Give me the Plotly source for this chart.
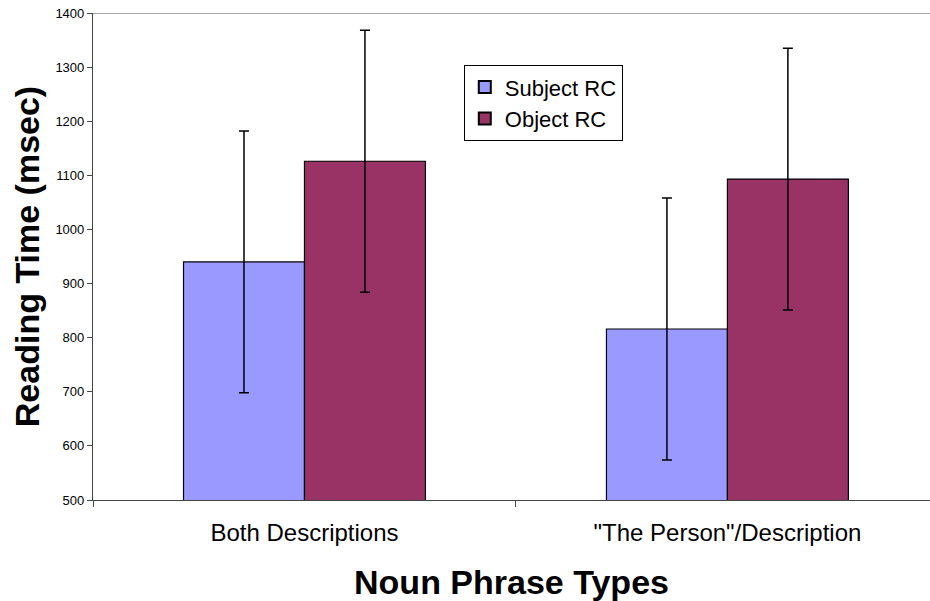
import plotly.graph_objects as go

categories = ["Both Descriptions", "\"The Person\"/Description"]
subject_rc = [940, 816]
object_rc = [1126, 1093]
subject_err = [242, 242]
object_err = [242, 242]

FONT = "Arial, Liberation Sans, Helvetica, sans-serif"

fig = go.Figure()
fig.add_trace(go.Bar(
    name="Subject RC", x=categories, y=subject_rc,
    marker=dict(color="#9999FF", line=dict(color="black", width=1.2)),
    error_y=dict(type="data", array=subject_err, color="black", thickness=1.5, width=5),
))
fig.add_trace(go.Bar(
    name="Object RC", x=categories, y=object_rc,
    marker=dict(color="#993366", line=dict(color="black", width=1.2)),
    error_y=dict(type="data", array=object_err, color="black", thickness=1.5, width=5),
))

fig.add_shape(type="line", xref="paper", yref="y", x0=0, x1=1, y0=1400, y1=1400,
              line=dict(color="#888888", width=1.5))

fig.update_layout(
    width=930, height=601,
    margin=dict(l=93, r=0, t=13, b=101, autoexpand=False),
    paper_bgcolor="white", plot_bgcolor="white",
    barmode="group", bargap=0.428, bargroupgap=0,
    font=dict(family=FONT, color="black"),
    showlegend=True,
    legend=dict(
        x=0.443, y=0.893, xanchor="left", yanchor="top",
        bgcolor="white", bordercolor="black", borderwidth=1,
        font=dict(size=22, family=FONT, color="black"),
        tracegroupgap=0, itemsizing="constant",
    ),
    xaxis=dict(
        range=[-0.5, 1.479],
        showline=True, linecolor="#444444", linewidth=1.2,
        ticks="outside", tickson="boundaries", ticklen=6, tickcolor="#444444",
        tickfont=dict(size=24, family=FONT, color="black"),
        ticklabelstandoff=11,
        showgrid=False, zeroline=False,
        title=dict(text="<b>Noun Phrase Types</b>", font=dict(size=34, family=FONT, color="black"), standoff=33),
    ),
    yaxis=dict(
        range=[500, 1400], dtick=100, tick0=500,
        showline=True, linecolor="#444444", linewidth=1.2,
        ticks="outside", ticklen=5, tickcolor="#444444",
        tickfont=dict(size=13, family=FONT, color="black"),
        ticklabeloverflow="allow",
        showgrid=False, zeroline=False,
        title=dict(text="<b>Reading Time (msec)</b>", font=dict(size=34, family=FONT, color="black"), standoff=5),
    ),
)

fig.write_html(
    "out.html",
    config={"displayModeBar": False},
    post_script="document.body.style.margin='0';document.body.style.padding='0';",
)
